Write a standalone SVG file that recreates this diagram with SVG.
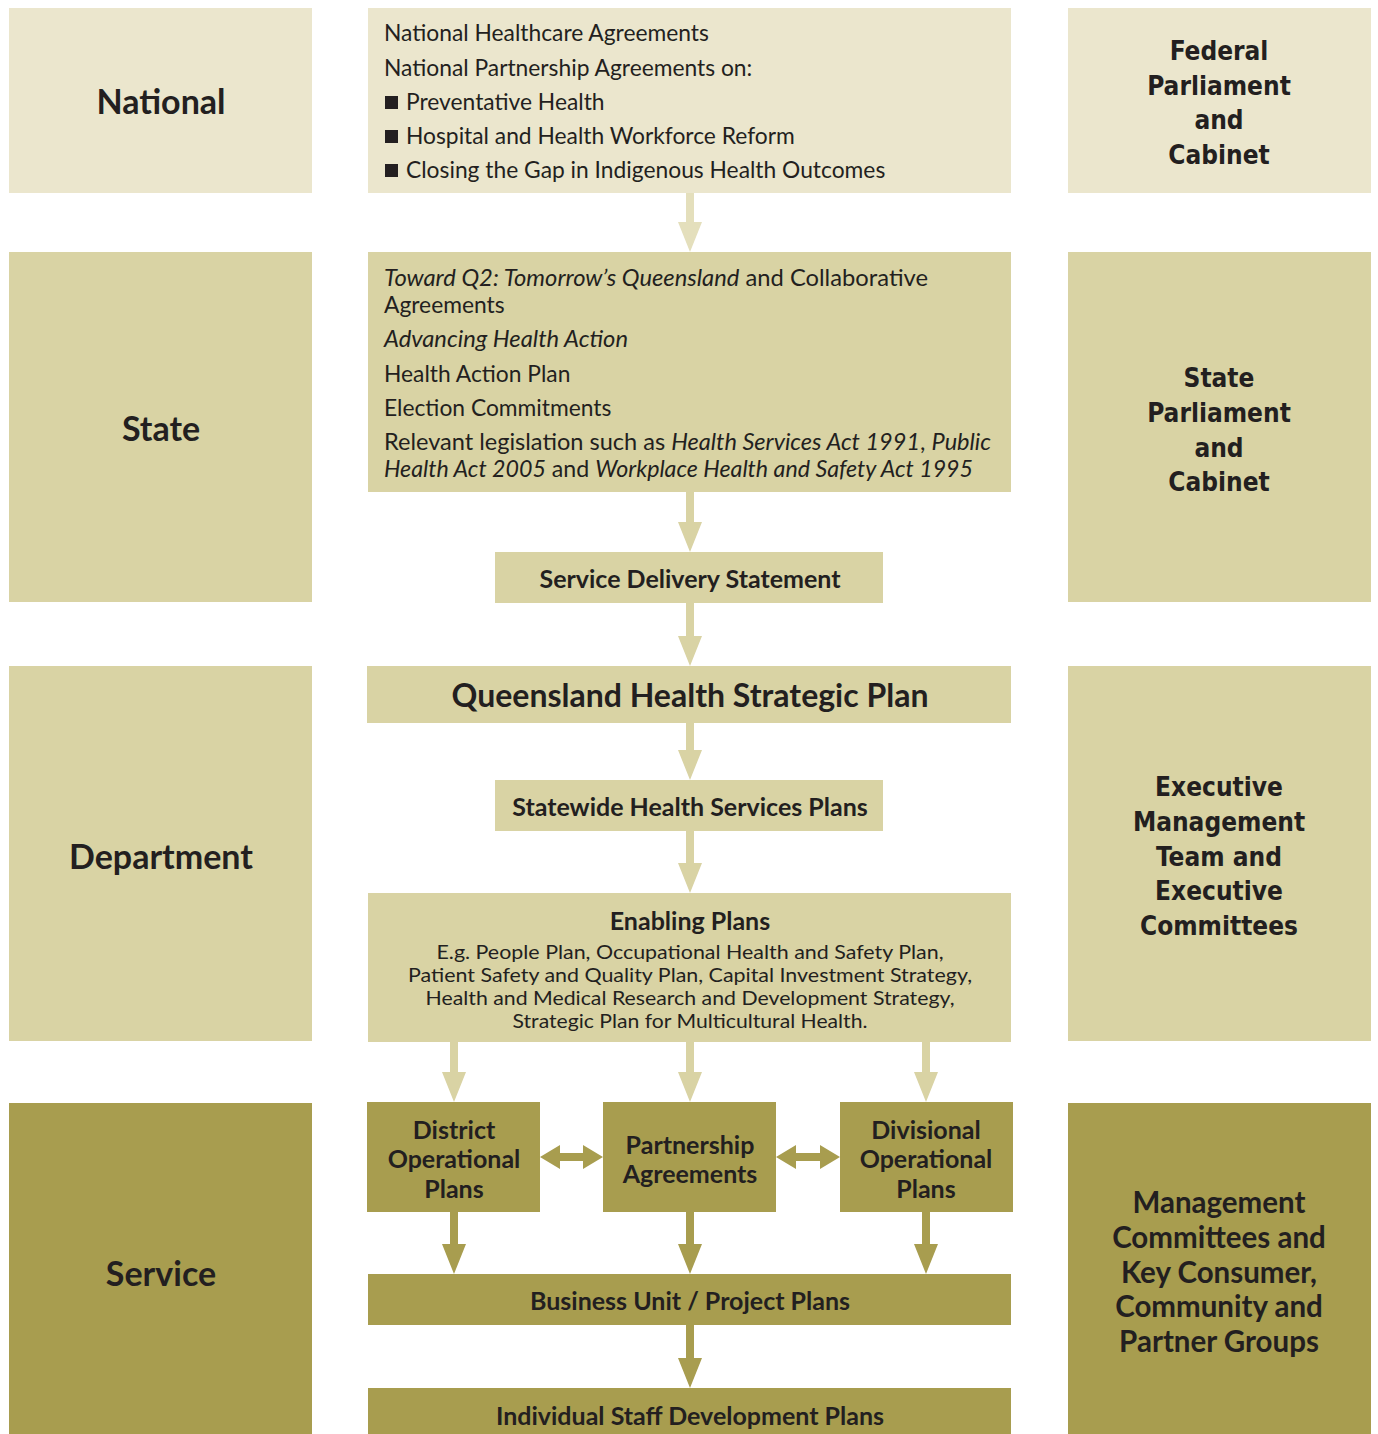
<svg xmlns="http://www.w3.org/2000/svg" width="1378" height="1434" viewBox="0 0 1378 1434">
<style>
.l1{fill:#ebe6cd}
.l2{fill:#d9d3a4}
.l3{fill:#a89d4f}
text{font-family:Lato,"Open Sans",sans-serif;fill:#231f20}
.lab{font-size:34px;font-weight:bold;text-anchor:middle}
.body{font-size:22.8px}
.it{font-style:italic}
.hd{font-size:25px;font-weight:bold;text-anchor:middle}
.big{font-size:32px;font-weight:bold;text-anchor:middle}
.sm{font-size:19px;text-anchor:middle}
.rt{font-family:"DejaVu Sans Condensed","DejaVu Sans",sans-serif;font-size:26px;font-weight:bold;text-anchor:middle}
.rt2{font-size:29.5px;font-weight:bold;text-anchor:middle}
.sv{font-size:25px;font-weight:bold;text-anchor:middle}
.a1{fill:#e4dfbc}
.a2{fill:#d9d3a4}
.a3{fill:#a89d4f}
</style>
<rect width="1378" height="1434" fill="#ffffff"/>

<g id="lbl-national"><rect class="l1" x="9" y="8" width="303" height="185"/><text class="lab" x="161" y="114">National</text></g>
<g id="lbl-state"><rect class="l2" x="9" y="252" width="303" height="350"/><text class="lab" x="161" y="441">State</text></g>
<g id="lbl-department"><rect class="l2" x="9" y="666" width="303" height="375"/><text class="lab" x="161" y="869">Department</text></g>
<g id="lbl-service"><rect class="l3" x="9" y="1103" width="303" height="331"/><text class="lab" x="161" y="1286">Service</text></g>

<g id="national-box"><rect class="l1" x="368" y="8" width="643" height="185"/>
<text class="body" x="384" y="41">National Healthcare Agreements</text>
<text class="body" x="384" y="76">National Partnership Agreements on:</text>
<rect x="385" y="96" width="13" height="13" fill="#231f20"/><text class="body" x="406" y="110">Preventative Health</text>
<rect x="385" y="130" width="13" height="13" fill="#231f20"/><text class="body" x="406" y="144">Hospital and Health Workforce Reform</text>
<rect x="385" y="164" width="13" height="13" fill="#231f20"/><text class="body" x="406" y="178">Closing the Gap in Indigenous Health Outcomes</text>
</g>

<g id="state-box"><rect class="l2" x="368" y="252" width="643" height="240"/>
<text class="body" x="384" y="286" textLength="544" lengthAdjust="spacingAndGlyphs"><tspan class="it">Toward Q2: Tomorrow’s Queensland</tspan> and Collaborative</text>
<text class="body" x="384" y="313">Agreements</text>
<text class="body it" x="384" y="347" textLength="244" lengthAdjust="spacingAndGlyphs">Advancing Health Action</text>
<text class="body" x="384" y="382">Health Action Plan</text>
<text class="body" x="384" y="416">Election Commitments</text>
<text class="body" x="384" y="450" textLength="607" lengthAdjust="spacingAndGlyphs">Relevant legislation such as <tspan class="it">Health Services Act 1991</tspan>, <tspan class="it">Public</tspan></text>
<text class="body" x="384" y="477" textLength="589" lengthAdjust="spacingAndGlyphs"><tspan class="it">Health Act 2005</tspan> and <tspan class="it">Workplace Health and Safety Act 1995</tspan></text>
</g>

<g id="sds"><rect class="l2" x="495" y="552" width="388" height="51"/><text class="hd" x="690" y="588">Service Delivery Statement</text></g>
<g id="qhsp"><rect class="l2" x="367" y="666" width="644" height="57"/><text class="big" x="690" y="707">Queensland Health Strategic Plan</text></g>
<g id="shsp"><rect class="l2" x="495" y="780" width="388" height="51"/><text class="hd" x="690" y="816">Statewide Health Services Plans</text></g>
<g id="enabling"><rect class="l2" x="368" y="893" width="643" height="149"/>
<text class="hd" x="690" y="930">Enabling Plans</text>
<text class="sm" x="690" y="959" textLength="507" lengthAdjust="spacingAndGlyphs">E.g. People Plan, Occupational Health and Safety Plan,</text>
<text class="sm" x="690" y="982" textLength="564" lengthAdjust="spacingAndGlyphs">Patient Safety and Quality Plan, Capital Investment Strategy,</text>
<text class="sm" x="690" y="1005" textLength="529" lengthAdjust="spacingAndGlyphs">Health and Medical Research and Development Strategy,</text>
<text class="sm" x="690" y="1028" textLength="355" lengthAdjust="spacingAndGlyphs">Strategic Plan for Multicultural Health.</text>
</g>
<g id="district"><rect class="l3" x="367" y="1102" width="173" height="110"/>
<text class="sv" x="454" y="1139">District</text><text class="sv" x="454" y="1168">Operational</text><text class="sv" x="454" y="1198">Plans</text></g>
<g id="partnership"><rect class="l3" x="603" y="1102" width="173" height="110"/>
<text class="sv" x="690" y="1154">Partnership</text><text class="sv" x="690" y="1183">Agreements</text></g>
<g id="divisional"><rect class="l3" x="840" y="1102" width="173" height="110"/>
<text class="sv" x="926" y="1139">Divisional</text><text class="sv" x="926" y="1168">Operational</text><text class="sv" x="926" y="1198">Plans</text></g>
<g id="business"><rect class="l3" x="368" y="1274" width="643" height="51"/><text class="hd" x="690" y="1310">Business Unit / Project Plans</text></g>
<g id="individual"><rect class="l3" x="368" y="1388" width="643" height="46"/><text class="hd" x="690" y="1425">Individual Staff Development Plans</text></g>

<g id="r-federal"><rect class="l1" x="1068" y="8" width="303" height="185"/>
<text class="rt" x="1219" y="60">Federal</text><text class="rt" x="1219" y="95">Parliament</text><text class="rt" x="1219" y="129">and</text><text class="rt" x="1219" y="164">Cabinet</text></g>
<g id="r-state"><rect class="l2" x="1068" y="252" width="303" height="350"/>
<text class="rt" x="1219" y="387">State</text><text class="rt" x="1219" y="422">Parliament</text><text class="rt" x="1219" y="457">and</text><text class="rt" x="1219" y="491">Cabinet</text></g>
<g id="r-exec"><rect class="l2" x="1068" y="666" width="303" height="375"/>
<text class="rt" x="1219" y="796">Executive</text><text class="rt" x="1219" y="831">Management</text><text class="rt" x="1219" y="866">Team and</text><text class="rt" x="1219" y="900">Executive</text><text class="rt" x="1219" y="935">Committees</text></g>
<g id="r-mgmt"><rect class="l3" x="1068" y="1103" width="303" height="331"/>
<text class="rt2" x="1219" y="1213">Management</text><text class="rt2" x="1219" y="1248">Committees and</text><text class="rt2" x="1219" y="1283">Key Consumer,</text><text class="rt2" x="1219" y="1317">Community and</text><text class="rt2" x="1219" y="1352">Partner Groups</text></g>

<g id="connectors">
<polygon class="a1" points="686,193 694,193 694,222 702,222 690,252 678,222 686,222"/>
<polygon class="a2" points="686,492 694,492 694,522 702,522 690,552 678,522 686,522"/>
<polygon class="a2" points="686,603 694,603 694,636 702,636 690,666 678,636 686,636"/>
<polygon class="a2" points="686,723 694,723 694,750 702,750 690,780 678,750 686,750"/>
<polygon class="a2" points="686,831 694,831 694,863 702,863 690,893 678,863 686,863"/>
<polygon class="a2" points="450,1042 458,1042 458,1072 466,1072 454,1102 442,1072 450,1072"/>
<polygon class="a2" points="686,1042 694,1042 694,1072 702,1072 690,1102 678,1072 686,1072"/>
<polygon class="a2" points="922,1042 930,1042 930,1072 938,1072 926,1102 914,1072 922,1072"/>
<polygon class="a3" points="450,1212 458,1212 458,1244 466,1244 454,1274 442,1244 450,1244"/>
<polygon class="a3" points="686,1212 694,1212 694,1244 702,1244 690,1274 678,1244 686,1244"/>
<polygon class="a3" points="922,1212 930,1212 930,1244 938,1244 926,1274 914,1244 922,1244"/>
<polygon class="a3" points="686,1325 694,1325 694,1358 702,1358 690,1388 678,1358 686,1358"/>
<polygon class="a3" points="540,1157 560,1145 560,1153 583,1153 583,1145 603,1157 583,1169 583,1161 560,1161 560,1169"/>
<polygon class="a3" points="776,1157 796,1145 796,1153 820,1153 820,1145 840,1157 820,1169 820,1161 796,1161 796,1169"/>
</g>
</svg>
